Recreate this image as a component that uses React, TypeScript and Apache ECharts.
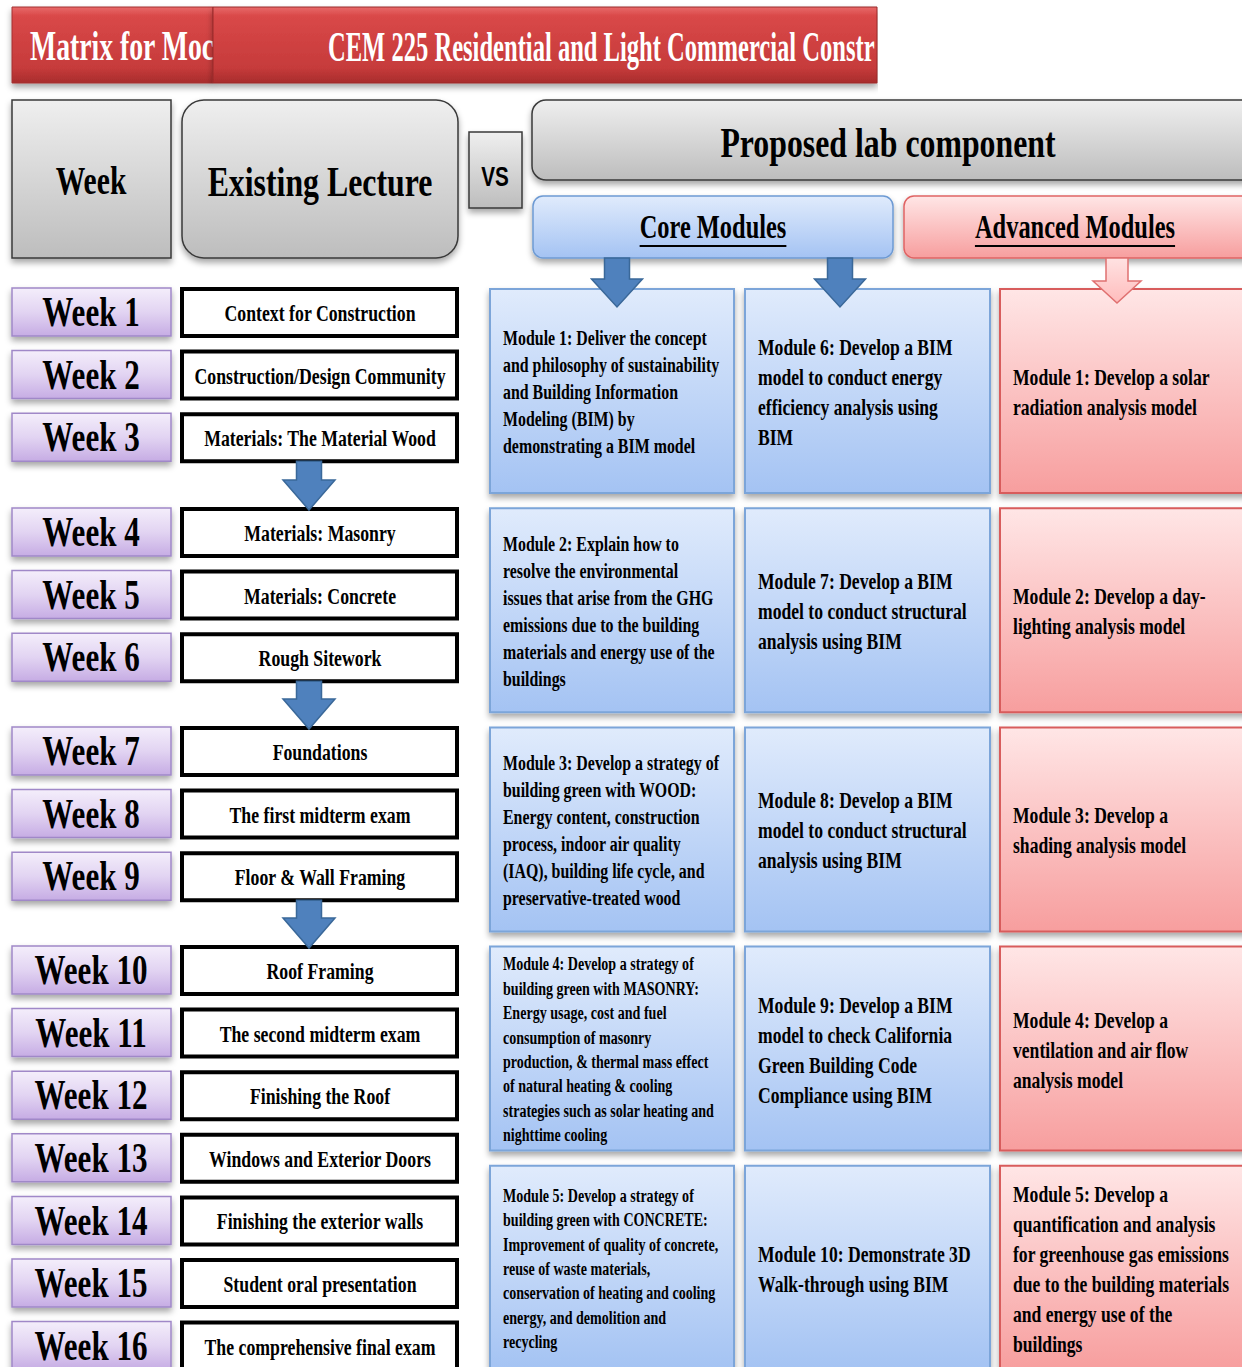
import React, { useEffect, useRef } from 'react';
import * as echarts from 'echarts';

// ---------- content ----------
const titleLeft = 'Matrix for Moc';
const titleRight = 'CEM 225 Residential and Light Commercial Constr';
const headerWeek = 'Week';
const headerLecture = 'Existing Lecture';
const headerVs = 'VS';
const headerProposed = 'Proposed lab component';
const headerCore = 'Core Modules';
const headerAdvanced = 'Advanced Modules';

const weeks = [
  'Week 1', 'Week 2', 'Week 3', 'Week 4', 'Week 5', 'Week 6', 'Week 7', 'Week 8',
  'Week 9', 'Week 10', 'Week 11', 'Week 12', 'Week 13', 'Week 14', 'Week 15', 'Week 16',
];
const weekGroups = [[0, 1, 2], [3, 4, 5], [6, 7, 8], [9, 10, 11, 12, 13, 14, 15]];

const lectures = [
  'Context for Construction',
  'Construction/Design Community',
  'Materials: The Material Wood',
  'Materials: Masonry',
  'Materials: Concrete',
  'Rough Sitework',
  'Foundations',
  'The first midterm exam',
  'Floor & Wall Framing',
  'Roof Framing',
  'The second midterm exam',
  'Finishing the Roof',
  'Windows and Exterior Doors',
  'Finishing the exterior walls',
  'Student oral presentation',
  'The comprehensive final exam',
];

const coreModulesLeft = [
  ['Module 1: Deliver the concept', 'and philosophy of sustainability', 'and Building Information', 'Modeling (BIM) by', 'demonstrating a BIM model'],
  ['Module 2: Explain how to', 'resolve the environmental', 'issues that arise from the GHG', 'emissions due to the building', 'materials and energy use of the', 'buildings'],
  ['Module 3: Develop a strategy of', 'building green with WOOD:', 'Energy content, construction', 'process, indoor air quality', '(IAQ), building life cycle, and', 'preservative-treated wood'],
  ['Module 4: Develop a strategy of', 'building green with MASONRY:', 'Energy usage, cost and fuel', 'consumption of masonry', 'production, & thermal mass effect', 'of natural heating & cooling', 'strategies such as solar heating and', 'nighttime cooling'],
  ['Module 5: Develop a strategy of', 'building green with CONCRETE:', 'Improvement of quality of concrete,', 'reuse of waste materials,', 'conservation of heating and cooling', 'energy, and demolition and', 'recycling'],
];

const coreModulesRight = [
  ['Module 6: Develop a BIM', 'model to conduct energy', 'efficiency analysis using', 'BIM'],
  ['Module 7: Develop a BIM', 'model to conduct structural', 'analysis using BIM'],
  ['Module 8: Develop a BIM', 'model to conduct structural', 'analysis using BIM'],
  ['Module 9: Develop a BIM', 'model to check California', 'Green Building Code', 'Compliance using BIM'],
  ['Module 10: Demonstrate 3D', 'Walk-through using BIM'],
];

const advancedModules = [
  ['Module 1: Develop a solar', 'radiation analysis model'],
  ['Module 2: Develop a day-', 'lighting analysis model'],
  ['Module 3: Develop a', 'shading analysis model'],
  ['Module 4: Develop a', 'ventilation and air flow', 'analysis model'],
  ['Module 5: Develop a', 'quantification and analysis', 'for greenhouse gas emissions', 'due to the building materials', 'and energy use of the', 'buildings'],
];

// ---------- styling ----------
const SERIF = "'Liberation Serif', 'Times New Roman', serif";
const SANS = "'Liberation Sans', Arial, sans-serif";
const S = 0.74; // horizontal condensation of the type

function measure(str: string, font: string): number {
  const c = document.createElement('canvas').getContext('2d');
  if (!c) return str.length * 10;
  c.font = font;
  return c.measureText(str).width;
}

function buildElements(): any[] {
  const els: any[] = [];
  const grad = (stops: [number, string][]) =>
    new echarts.graphic.LinearGradient(0, 0, 0, 1, stops.map(([offset, color]) => ({ offset, color })));
  const shadow = { shadowBlur: 6, shadowOffsetX: 0, shadowOffsetY: 4, shadowColor: 'rgba(0,0,0,0.35)' };
  const rect = (x: number, y: number, w: number, h: number, style: any, r = 0) => ({
    type: 'rect', shape: { x, y, width: w, height: h, r }, style,
  });
  const text = (x: number, y: number, str: string, size: number, o: any = {}) => {
    const align = o.align ?? 'center';
    return {
      type: 'text', x, y, scaleX: o.scaleX ?? S,
      style: {
        text: str,
        font: `${o.weight ?? 'bold'} ${size}px ${o.family ?? SERIF}`,
        fill: o.fill ?? '#000',
        textAlign: align, align,
        textVerticalAlign: 'middle', verticalAlign: 'middle',
        lineHeight: o.lineHeight ?? Math.round(size * 1.2),
      },
    };
  };
  const arrow = (cx: number, top: number, headY: number, tip: number, sw: number, hw: number, style: any) => ({
    type: 'polygon',
    shape: {
      points: [
        [cx - sw / 2, top], [cx + sw / 2, top], [cx + sw / 2, headY], [cx + hw / 2, headY],
        [cx, tip], [cx - hw / 2, headY], [cx - sw / 2, headY],
      ],
    },
    style,
  });

  const red = () => grad([[0, '#e86a6a'], [0.12, '#d94848'], [0.8, '#c63b3b'], [1, '#a82c2c']]);
  const gray = () => grad([[0, '#efefef'], [1, '#bdbdbd']]);
  const purple = () => grad([[0, '#f4eefb'], [0.5, '#e2d4f2'], [1, '#c6ace4']]);
  const blue = () => grad([[0, '#e0ebfc'], [1, '#a4c3f3']]);
  const pink = () => grad([[0, '#ffe6e6'], [1, '#f79e9e']]);
  const arrowBlue = { fill: '#4f81bd', stroke: '#3a6899', lineWidth: 1.5 };

  // ---- title bar ----
  els.push(rect(12, 7, 201, 76, { fill: red(), stroke: '#a33030', lineWidth: 1, ...shadow }));
  els.push(text(30, 46, titleLeft, 42, { align: 'left', fill: '#ffffff', scaleX: 0.66 }));
  els.push(rect(213, 7, 664, 76, { fill: red(), stroke: '#9a2a2a', lineWidth: 1, ...shadow }));
  els.push(text(328, 46, titleRight, 42, { align: 'left', fill: '#ffffff', scaleX: 0.585 }));
  els.push(rect(878, 0, 364, 94, { fill: '#ffffff' }));

  // ---- header ----
  els.push(rect(12, 100, 159, 158, { fill: gray(), stroke: '#3a3a3a', lineWidth: 1.5, ...shadow }));
  els.push(text(91, 181, headerWeek, 40));
  els.push(rect(182, 100, 276, 158, { fill: gray(), stroke: '#3a3a3a', lineWidth: 1.5, ...shadow }, 22));
  els.push(text(320, 181, headerLecture, 43));
  els.push(rect(469, 132, 53, 76, { fill: gray(), stroke: '#3a3a3a', lineWidth: 1.5, ...shadow }));
  els.push(text(495, 176, headerVs, 28, { family: SANS, scaleX: 0.74 }));
  els.push(rect(532, 100, 730, 80, { fill: gray(), stroke: '#3a3a3a', lineWidth: 1.5, ...shadow }, 14));
  els.push(text(888, 142, headerProposed, 43));

  els.push(rect(533, 196, 360, 62, { fill: blue(), stroke: '#6d9ad3', lineWidth: 1.5, ...shadow }, 10));
  els.push(text(713, 227, headerCore, 33));
  els.push(rect(904, 196, 360, 62, { fill: pink(), stroke: '#df6464', lineWidth: 1.5, ...shadow }, 10));
  els.push(text(1075, 227, headerAdvanced, 33));
  const underline = (cx: number, str: string) => {
    const w = measure(str, `bold 33px ${SERIF}`) * S;
    els.push({ type: 'line', shape: { x1: cx - w / 2, y1: 246, x2: cx + w / 2, y2: 246 }, style: { stroke: '#000', lineWidth: 2 } });
  };
  underline(713, headerCore);
  underline(1075, headerAdvanced);

  // ---- weeks and lectures ----
  const groupTop = [288, 508, 727, 946];
  const step = 62.6;
  const weekTop: number[] = [];
  weekGroups.forEach((g, gi) => g.forEach((wi, k) => { weekTop[wi] = groupTop[gi] + k * step; }));
  weeks.forEach((w, i) => {
    const y = weekTop[i];
    els.push(rect(12, y, 159, 48, { fill: purple(), stroke: '#a088c8', lineWidth: 1.5, ...shadow }));
    els.push(text(91, y + 24, w, 42));
    els.push(rect(182, y + 1, 275, 47, { fill: '#ffffff', stroke: '#000000', lineWidth: 4 }));
    els.push(text(320, y + 25, lectures[i], 24));
  });
  // arrows between groups of weeks
  for (let gi = 0; gi < weekGroups.length - 1; gi++) {
    const last = weekGroups[gi][weekGroups[gi].length - 1];
    const bottom = weekTop[last] + 48;
    const nextTop = weekTop[weekGroups[gi + 1][0]];
    els.push(arrow(309, bottom, nextTop - 28, nextTop + 2, 25, 52, arrowBlue));
  }

  // ---- module grid ----
  const rowTop = (r: number) => 289 + r * 219.2;
  const boxH = 204;
  const cols = [
    { x: 490, w: 244, tx: 503, data: coreModulesLeft, fill: blue, stroke: '#7ba5d9' },
    { x: 745, w: 245, tx: 758, data: coreModulesRight, fill: blue, stroke: '#7ba5d9' },
    { x: 1000, w: 260, tx: 1013, data: advancedModules, fill: pink, stroke: '#d85c5c' },
  ];
  cols.forEach((c, ci) => {
    c.data.forEach((ls, r) => {
      const y = rowTop(r);
      els.push(rect(c.x, y, c.w, boxH, { fill: c.fill(), stroke: c.stroke, lineWidth: 2, ...shadow }));
      let size = 23.8, lh = 30;
      if (ci === 0) { if (r < 3) { size = 21.5; lh = 27; } else { size = 19; lh = 24.4; } }
      els.push(text(c.tx, y + boxH / 2 + 1, ls.join('\n'), size, { align: 'left', lineHeight: lh }));
    });
  });

  // arrows from the module headers
  els.push(arrow(617, 258, 279, 307, 25, 51, arrowBlue));
  els.push(arrow(840, 258, 279, 307, 25, 51, arrowBlue));
  els.push(arrow(1117, 258, 281, 303, 22, 48, { fill: grad([[0, '#ffe2e2'], [1, '#ffbcbc']]), stroke: '#e07070', lineWidth: 1.5 }));

  return els;
}

export default function App() {
  const ref = useRef<HTMLDivElement>(null);
  useEffect(() => {
    if (!ref.current) return;
    const chart = echarts.init(ref.current, null, { renderer: 'svg', width: 1242, height: 1367 });
    chart.setOption({
      animation: false,
      backgroundColor: '#ffffff',
      graphic: { elements: buildElements() },
    });
    return () => chart.dispose();
  }, []);
  return (
    <div
      ref={ref}
      style={{ position: 'absolute', left: 0, top: 0, width: 1242, height: 1367, overflow: 'hidden' }}
    />
  );
}
